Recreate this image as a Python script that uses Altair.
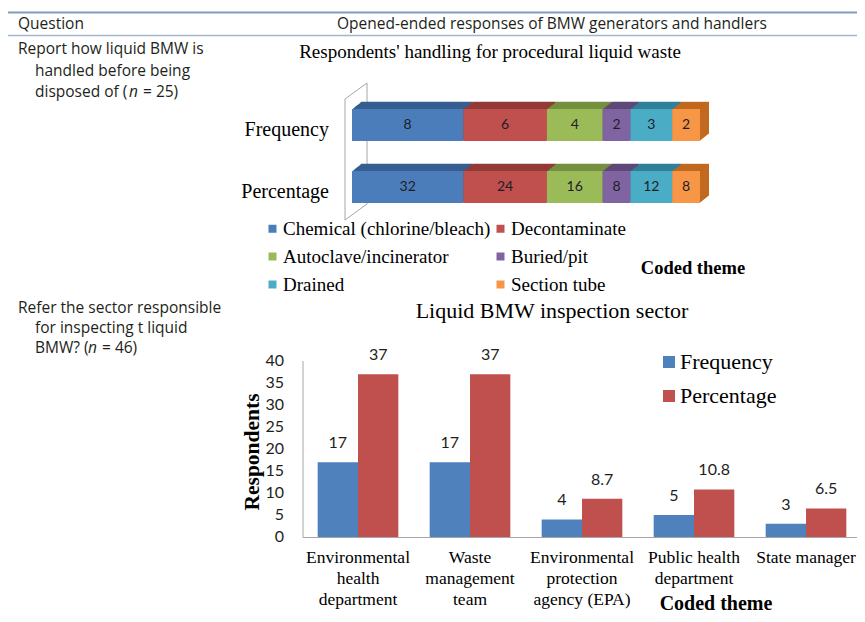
import altair as alt
import pandas as pd

# ---------------- data ----------------
# Chart 1: handling of procedural liquid waste
themes1 = ["Chemical (chlorine/bleach)", "Decontaminate", "Autoclave/incinerator",
           "Buried/pit", "Drained", "Section tube"]
freq1 = [8, 6, 4, 2, 3, 2]
pct1 = [32, 24, 16, 8, 12, 8]
rows1 = ["Frequency", "Percentage"]
colors1 = ["#4A7DBA", "#C0504D", "#9BBB59", "#8064A2", "#4BACC6", "#F79646"]
dark1 = ["#365E91", "#943A37", "#74903F", "#5E4879", "#2F8199", "#C0691F"]
# legend reading order (row by row, two columns)
legend_order1 = ["Chemical (chlorine/bleach)", "Autoclave/incinerator", "Drained",
                 "Decontaminate", "Buried/pit", "Section tube"]

# Chart 2: liquid BMW inspection sector
sectors2 = ["Environmental\nhealth\ndepartment", "Waste\nmanagement\nteam",
            "Environmental\nprotection\nagency (EPA)", "Public health\ndepartment",
            "State manager"]
freq2 = [17, 17, 4, 5, 3]
pct2 = [37, 37, 8.7, 10.8, 6.5]
series2 = ["Frequency", "Percentage"]
colors2 = ["#4F81BD", "#C0504D"]
yticks2 = [0, 5, 10, 15, 20, 25, 30, 35, 40]

# ---------------- tables ----------------
df1 = pd.DataFrame(
    [{"row": r, "theme": t, "value": v, "idx": i}
     for r, vals in zip(rows1, [freq1, pct1])
     for i, (t, v) in enumerate(zip(themes1, vals))]
)
df2 = pd.DataFrame(
    [{"sector": s, "series": se, "value": v}
     for s, f, p in zip(sectors2, freq2, pct2)
     for se, v in zip(series2, [f, p])]
)
dft = pd.DataFrame({"tick": yticks2})
dfr = pd.DataFrame({"row": rows1})
dfs = pd.DataFrame({"sector": sectors2})
one = pd.DataFrame({"a": [0]})

SANS = "Open Sans"
NUM = "Lato"
SERIF = "Liberation Serif"
TXT = "#231F20"
TFS = 15.5


def px(v):
    return v - 8  # page -> chart coordinates


def text(s, x, y, **kw):
    return alt.Chart(one).mark_text(text=s, **kw).encode(x=alt.value(px(x)), y=alt.value(px(y)))


def ttext(s, x, y, **kw):
    return text(s, x, y, align="left", baseline="middle", font=SANS, fontSize=TFS, color=TXT, **kw)


def rule(x1, y1, x2, y2, color, w=1):
    return alt.Chart(one).mark_rule(color=color, strokeWidth=w).encode(
        x=alt.value(px(x1)), y=alt.value(px(y1)), x2=alt.value(px(x2)), y2=alt.value(px(y2)))


layers = []

# ---------------- table frame & left column ----------------
layers += [
    rule(8, 12.5, 865, 12.5, "#7F9CC0", 2),
    rule(8, 35.5, 865, 35.5, "#A3B5CE", 1.5),
    ttext("Question", 18, 24),
    text("Opened-ended responses of BMW generators and handlers", 552, 24, align="center",
         baseline="middle", font=SANS, fontSize=TFS, color=TXT),
    ttext("Report how liquid BMW is", 18, 49),
    ttext("handled before being", 35, 71),
    ttext("disposed of (", 35, 92),
    ttext("n", 129, 92, fontStyle="italic"),
    ttext("= 25)", 143, 92),
    ttext("Refer the sector responsible", 18, 308),
    ttext("for inspecting t liquid", 35, 328),
    ttext("BMW? (", 35, 348),
    ttext("n", 88, 348, fontStyle="italic"),
    ttext("= 46)", 102, 348),
]

# ---------------- chart 1 ----------------
x1scale = alt.Scale(domain=[0, 1], range=[px(352), px(700)])
y1scale = alt.Scale(type="band", domain=rows1, range=[px(109), px(203)], paddingInner=0.484, paddingOuter=0)

layers += [
    text("Respondents' handling for procedural liquid waste", 490, 52, align="center",
         baseline="middle", font=SERIF, fontSize=19, color="black"),
    rule(345, 99, 345, 220, "#A6A6A6"),
    rule(367, 83, 367, 204, "#A6A6A6"),
    rule(345, 99, 367, 83, "#A6A6A6"),
    rule(345, 220, 367, 204, "#A6A6A6"),
]

NDEPTH = 9
for k in range(NDEPTH, 0, -1):
    dx = k * 1.0
    dy = -k * 0.8
    layers.append(
        alt.Chart(df1).mark_bar(xOffset=dx, x2Offset=dx, yOffset=dy, y2Offset=dy).encode(
            x=alt.X("value:Q", stack="normalize", scale=x1scale, axis=None),
            y=alt.Y("row:N", scale=y1scale, axis=None),
            color=alt.Color("theme:N", scale=alt.Scale(domain=themes1, range=dark1), legend=None),
            order=alt.Order("idx:Q"),
        )
    )

layers.append(
    alt.Chart(df1).mark_bar().encode(
        x=alt.X("value:Q", stack="normalize", scale=x1scale, axis=None),
        y=alt.Y("row:N", scale=y1scale, axis=None),
        color=alt.Color("theme:N", scale=alt.Scale(domain=themes1, range=colors1),
                        legend=alt.Legend(title=None, orient="none", legendX=px(263), legendY=px(219),
                                          values=legend_order1,
                                          columns=2, columnPadding=0, rowPadding=8,
                                          symbolType="square", symbolSize=64, symbolStrokeWidth=0,
                                          labelFont=SERIF, labelFontSize=19, labelColor="black",
                                          labelOffset=1, padding=0, labelLimit=400)),
        order=alt.Order("idx:Q"),
    )
)

layers.append(
    alt.Chart(df1)
    .transform_joinaggregate(total="sum(value)", groupby=["row"])
    .transform_window(cum="sum(value)", groupby=["row"], sort=[alt.SortField("idx")], frame=[None, 0])
    .transform_calculate(mid="(datum.cum - datum.value/2)/datum.total")
    .mark_text(font=NUM, fontSize=14, color="#1E1E2A", baseline="middle")
    .encode(
        x=alt.X("mid:Q", scale=x1scale, axis=None),
        y=alt.Y("row:N", scale=y1scale, axis=None),
        text="value:Q",
    )
)

layers.append(
    alt.Chart(dfr).mark_text(font=SERIF, fontSize=20, color="black", align="right", baseline="middle", dy=5)
    .encode(x=alt.value(px(329)), y=alt.Y("row:N", scale=y1scale, axis=None), text="row:N")
)

layers.append(text("Coded theme", 693, 268, align="center", baseline="middle", font=SERIF,
                   fontSize=18.5, fontWeight="bold", color="black"))

# ---------------- chart 2 ----------------
x2scale = alt.Scale(type="band", domain=sectors2, range=[px(302), px(862)], paddingInner=0.28, paddingOuter=0.14)
y2scale = alt.Scale(domain=[0, 40], range=[px(537), px(361)])

layers += [
    text("Liquid BMW inspection sector", 552, 311, align="center", baseline="middle",
         font=SERIF, fontSize=22, color="black"),
    rule(303, 361, 303, 537.5, "#A6A6A6"),
    rule(303, 537.5, 865, 537.5, "#A6A6A6"),
    text("Respondents", 253, 452, align="center", baseline="middle", angle=270,
         font=SERIF, fontSize=21.5, fontWeight="bold", color="black"),
    text("Coded theme", 716, 604, align="center", baseline="middle", font=SERIF,
         fontSize=20, fontWeight="bold", color="black"),
]

layers.append(
    alt.Chart(dft).mark_text(font=NUM, fontSize=16, color="#1E1E1E", align="right", baseline="middle")
    .encode(x=alt.value(px(284)), y=alt.Y("tick:Q", scale=y2scale, axis=None), text="tick:Q")
)

layers.append(
    alt.Chart(df2).mark_bar().encode(
        x=alt.X("sector:N", scale=x2scale, axis=None),
        xOffset=alt.XOffset("series:N", scale=alt.Scale(type="band", domain=series2)),
        y=alt.Y("value:Q", scale=y2scale, axis=None),
        color=alt.Color("series:N", scale=alt.Scale(domain=series2, range=colors2),
                        legend=alt.Legend(title=None, orient="none", legendX=px(658), legendY=px(351),
                                          symbolType="square", symbolSize=144, symbolStrokeWidth=0,
                                          labelFont=SERIF, labelFontSize=22, labelColor="black",
                                          labelOffset=0, rowPadding=12, padding=0)),
    )
)

layers.append(
    alt.Chart(df2).mark_text(font=NUM, fontSize=16, color="#1E1E1E", baseline="middle", dy=-19)
    .encode(
        x=alt.X("sector:N", scale=x2scale, axis=None),
        xOffset=alt.XOffset("series:N", scale=alt.Scale(type="band", domain=series2)),
        y=alt.Y("value:Q", scale=y2scale, axis=None),
        text="value:Q",
    )
)

layers.append(
    alt.Chart(dfs).mark_text(font=SERIF, fontSize=17.5, color="black", align="center",
                             baseline="alphabetic", lineBreak="\n", lineHeight=21)
    .encode(x=alt.X("sector:N", scale=x2scale, axis=None), y=alt.value(px(563)), text="sector:N")
)

chart = (
    alt.layer(*layers)
    .resolve_scale(x="independent", y="independent", color="independent")
    .properties(width=849, height=606, padding=0, autosize=alt.AutoSizeParams(type="none"),
                background="white")
    .configure_view(stroke=None)
)

chart.save("out.html", embed_options={"renderer": "svg", "actions": False})
